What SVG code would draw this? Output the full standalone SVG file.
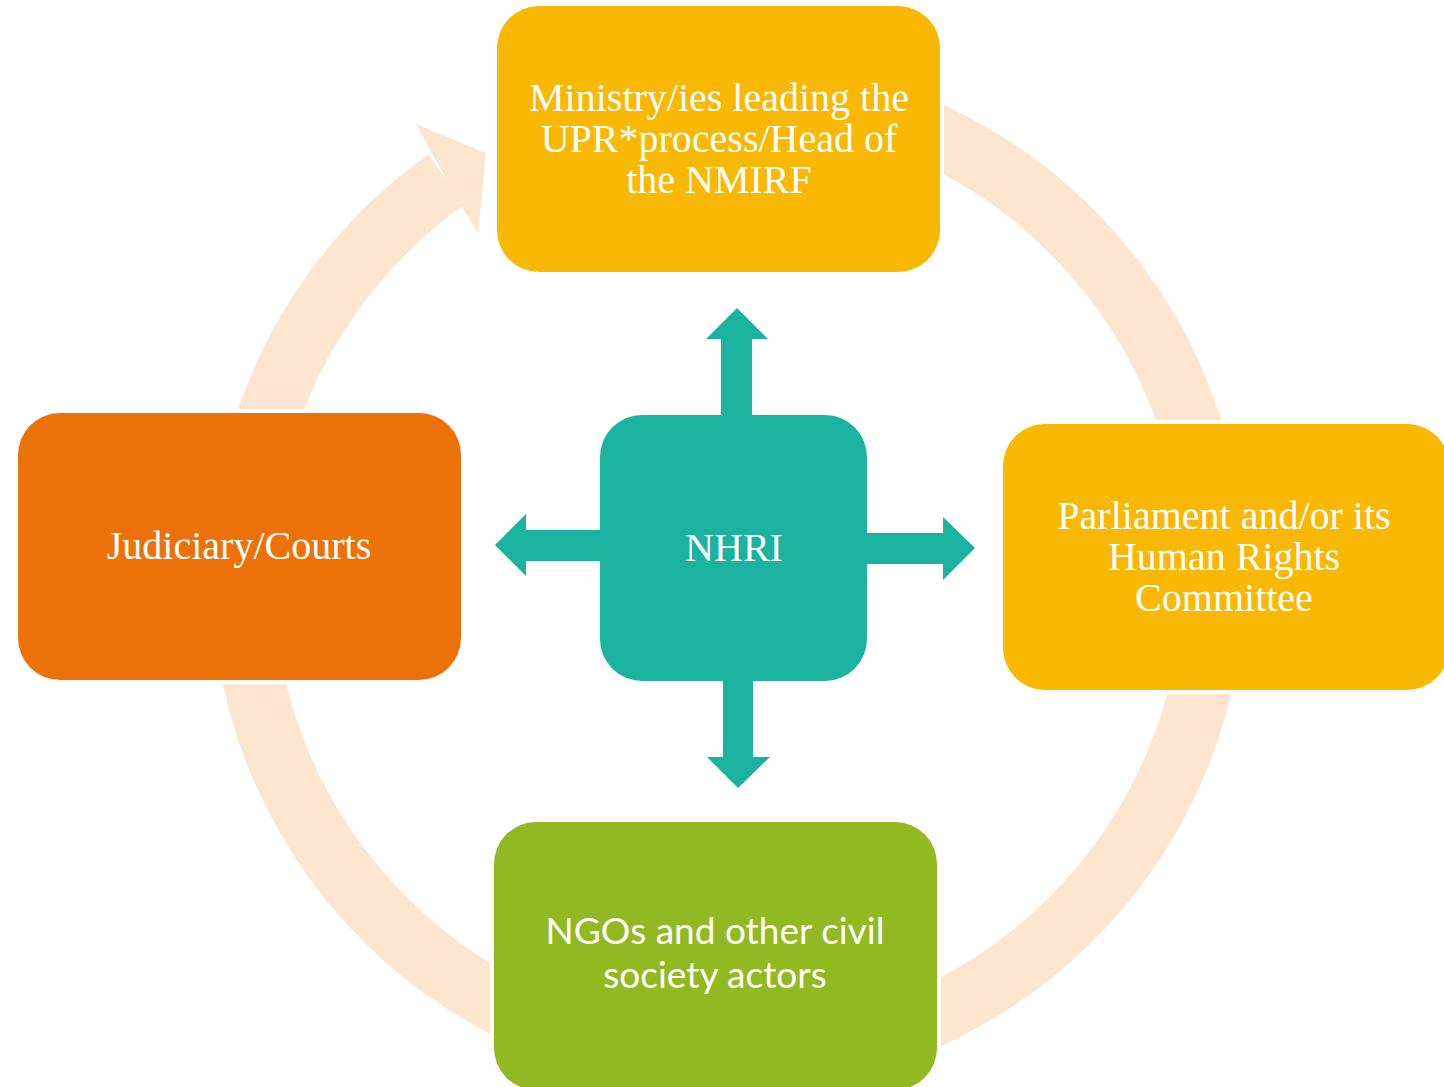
<svg xmlns="http://www.w3.org/2000/svg" width="1444" height="1087" viewBox="0 0 1444 1087">
<style>
.ring{fill:none;stroke:#FDE6D0;stroke-width:62;stroke-linecap:butt}
.box{stroke:#FFFFFF;stroke-width:8;paint-order:stroke}
.serif{font-family:"Liberation Serif","Times New Roman",serif;font-size:40px;fill:#FFFFFF;text-anchor:middle}
.sans{font-family:Lato,"Open Sans",sans-serif;font-size:37px;fill:#FFFFFF;text-anchor:middle}
.arr{fill:#1BB3A0}
</style>
<rect width="1444" height="1087" fill="#FFFFFF"/>
<g id="connectors">
<path class="ring" d="M264,430 A486,486 0 0 1 446.5,179.5"/>
<polygon fill="#FDE6D0" points="431,152 416,124 486,153 478,233 462,207"/>
<path class="ring" d="M900,120.5 A486,486 0 0 1 1197.6,450"/>
<path class="ring" d="M1206.5,660 A486,486 0 0 1 900,1029.5"/>
<path class="ring" d="M560,1031 A486,486 0 0 1 247.8,650"/>
<polygon class="arr" points="721,420 721,339 706,339 737,308 768,339 752,339 752,420"/>
<polygon class="arr" points="605,530 526,530 526,514 495,545 526,576 526,561 605,561"/>
<polygon class="arr" points="862,533 943,533 943,517 975,548 943,580 943,564 862,564"/>
<polygon class="arr" points="723,676 723,757 707,757 738,788 770,757 753,757 753,676"/>
</g>
<g id="node-ministry">
<rect class="box" x="497" y="6" width="443" height="266" rx="42" fill="#F8B803"/>
<text class="serif" x="719" y="111">Ministry/ies leading the</text>
<text class="serif" x="719" y="152">UPR*process/Head of</text>
<text class="serif" x="719" y="193">the NMIRF</text>
</g>
<g id="node-parliament">
<rect class="box" x="1003" y="424" width="446" height="266" rx="42" fill="#F8B803"/>
<text class="serif" x="1224" y="529">Parliament and/or its</text>
<text class="serif" x="1224" y="570">Human Rights</text>
<text class="serif" x="1224" y="611">Committee</text>
</g>
<g id="node-ngos">
<rect class="box" x="494" y="822" width="443" height="268" rx="42" fill="#91BA22"/>
<text class="sans" x="715" y="944">NGOs and other civil</text>
<text class="sans" x="715" y="988">society actors</text>
</g>
<g id="node-judiciary">
<rect class="box" x="18" y="413" width="443" height="267" rx="42" fill="#ED7109"/>
<text class="serif" x="239" y="559">Judiciary/Courts</text>
</g>
<g id="node-nhri">
<rect x="600" y="415" width="267" height="266" rx="42" fill="#1BB3A0"/>
<text class="serif" x="734" y="561">NHRI</text>
</g>
</svg>
